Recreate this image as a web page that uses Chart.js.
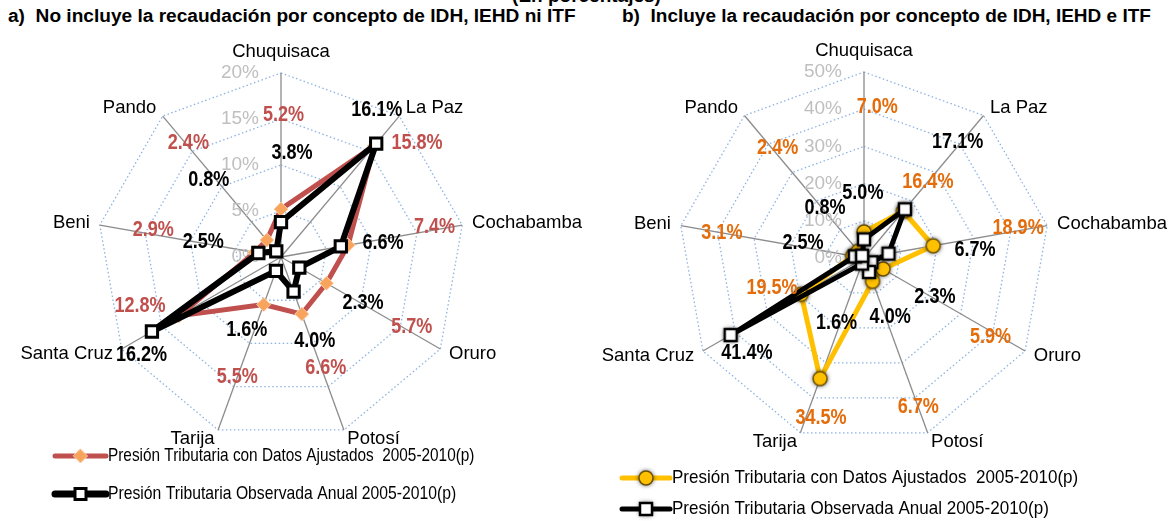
<!DOCTYPE html>
<html lang="es">
<head>
<meta charset="UTF-8">
<title>Presión tributaria por departamento</title>
<script src="https://cdn.jsdelivr.net/npm/chart.js@4.4.0/dist/chart.umd.min.js"></script>
<style>
  body { margin: 0; background: #fff; width: 1173px; height: 521px; overflow: hidden; position: relative; }
  .t { position: absolute; font-family: 'Liberation Sans', Arial, sans-serif; font-weight: bold; white-space: pre; color: #000; }
  #top { top: -14px; left: 0; width: 1173px; text-align: center; font-size: 19px; line-height: 19px; }
  #ta { top: 7px; left: 8px; font-size: 19.1px; line-height: 20px; transform: scaleY(0.92); transform-origin: left top; }
  #tb { top: 7px; left: 622px; font-size: 19px; line-height: 20px; transform: scaleY(0.92); transform-origin: left top; }
  canvas { position: absolute; top: 0; }
</style>
</head>
<body>
<div class="t" id="top">(En porcentajes)</div>
<div class="t" id="ta">a)  No incluye la recaudación por concepto de IDH, IEHD ni ITF</div>
<div class="t" id="tb">b)  Incluye la recaudación por concepto de IDH, IEHD e ITF</div>
<canvas id="chartA" width="586" height="521" style="left:0;width:586px;height:521px"></canvas>
<canvas id="chartB" width="587" height="521" style="left:586px;width:587px;height:521px"></canvas>

<script>
  // departamentos, en el orden del gráfico (horario desde arriba)
  const departamentos = ['Chuquisaca', 'La Paz', 'Cochabamba', 'Oruro', 'Potosí', 'Tarija', 'Santa Cruz', 'Beni', 'Pando'];

  // a) sin IDH, IEHD ni ITF
  const ajustadaA = [5.2, 15.8, 7.4, 5.7, 6.6, 5.5, 12.8, 2.9, 2.4];
  const observadaA = [3.8, 16.1, 6.6, 2.3, 4.0, 1.6, 16.2, 2.5, 0.8];
  const ticksA = [0, 5, 10, 15, 20];

  // b) con IDH, IEHD e ITF
  const ajustadaB = [7.0, 16.4, 18.9, 5.9, 6.7, 34.5, 19.5, 3.1, 2.4];
  const observadaB = [5.0, 17.1, 6.7, 2.3, 4.0, 1.6, 41.4, 2.5, 0.8];
  const ticksB = [0, 10, 20, 30, 40, 50];

  const nombreAjustada = 'Presión Tributaria con Datos Ajustados  2005-2010(p)';
  const nombreObservada = 'Presión Tributaria Observada Anual 2005-2010(p)';

  // where each value label sits: radius in axis units and angle in degrees
  const posA = {
    aj: { r: [15.4, 19.3, 17.0, 16.1, 13.0, 13.9, 16.2, 14.2, 16.0], ang: [1, 50, 79, 118, 158, 200, 251, 282, 321] },
    ob: { r: [11.4, 19.1, 11.2, 10.2, 9.8, 8.8, 18.5, 8.6, 11.5], ang: [6, 33, 82, 119, 158, 205, 235, 281, 317] }
  };
  const posB = {
    aj: { r: [40.7, 26.7, 42.2, 40.1, 42.6, 44.6, 26.0, 38.8, 37.7], ang: [5, 40, 79, 122, 160, 195, 252, 280, 322] },
    ob: { r: [17.5, 40.0, 29.9, 21.8, 17.3, 18.9, 40.5, 16.9, 17.0], ang: [359, 39, 86, 119, 156, 203, 231, 284, 322] }
  };

  const FONT = '"Liberation Sans", Arial, sans-serif';

  // little marker images with a soft dark glow (chart b)
  function glowMarker(kind) {
    const c = document.createElement('canvas');
    c.width = c.height = 26;
    const g = c.getContext('2d');
    g.shadowColor = 'rgba(0,0,0,0.8)';
    g.shadowBlur = 5;
    if (kind === 'circle') {
      g.beginPath();
      g.arc(13, 13, 7, 0, Math.PI * 2);
      g.fillStyle = '#FFC000';
      g.fill();
      g.shadowBlur = 0;
      g.lineWidth = 1.5;
      g.strokeStyle = '#6B5000';
      g.stroke();
    } else {
      g.fillStyle = '#fff';
      g.fillRect(7, 7, 12, 12);
      g.shadowBlur = 0;
      g.lineWidth = 2.5;
      g.strokeStyle = '#000';
      g.strokeRect(7, 7, 12, 12);
    }
    return c;
  }
  const circuloB = glowMarker('circle');
  const cuadroB = glowMarker('square');

  const decor = {
    id: 'decor',
    beforeDatasetsDraw(chart, args, o) {
      const s = chart.scales.r, ctx = chart.ctx;
      ctx.save();
      ctx.fillStyle = '#BFBFBF';
      ctx.font = '19px ' + FONT;
      ctx.textAlign = 'right';
      ctx.textBaseline = 'middle';
      s.ticks.forEach(t => {
        ctx.fillText(t.value + '%', s.xCenter - 22, s.yCenter - s.getDistanceFromCenterForValue(t.value));
      });
      ctx.fillStyle = '#000';
      ctx.font = '18.5px ' + FONT;
      const n = chart.data.labels.length;
      chart.data.labels.forEach((lab, i) => {
        const a = 360 / n * i;
        const p = s.getPointPosition(i, s.drawingArea + (a === 0 ? 12 : 10));
        ctx.textAlign = (a === 0 || a === 180) ? 'center' : (a < 180 ? 'left' : 'right');
        ctx.textBaseline = a === 0 ? 'bottom' : 'middle';
        ctx.fillText(lab, p.x, p.y);
      });
      ctx.restore();
    },
    afterDatasetsDraw(chart, args, o) {
      const s = chart.scales.r, ctx = chart.ctx;
      ctx.save();
      ctx.font = 'bold 22px ' + FONT;
      ctx.textAlign = 'center';
      ctx.textBaseline = 'middle';
      o.labels.forEach(set => {
        ctx.fillStyle = set.color;
        set.values.forEach((v, i) => {
          const d = s.getDistanceFromCenterForValue(set.pos.r[i]);
          const rad = set.pos.ang[i] * Math.PI / 180;
          ctx.save();
          ctx.translate(s.xCenter + d * Math.sin(rad), s.yCenter - d * Math.cos(rad));
          ctx.scale(0.82, 1);
          ctx.fillText(v.toFixed(1) + '%', 0, 0);
          ctx.restore();
        });
      });
      ctx.restore();
    },
    afterDraw(chart, args, o) {
      const ctx = chart.ctx;
      ctx.save();
      o.legend.forEach(it => {
        ctx.beginPath();
        ctx.moveTo(it.x, it.y);
        ctx.lineTo(it.x + it.w, it.y);
        ctx.lineWidth = it.lineWidth;
        ctx.lineCap = 'round';
        ctx.strokeStyle = it.color;
        ctx.stroke();
        const mx = it.x + it.w / 2;
        if (it.image) {
          ctx.drawImage(it.image, mx - it.image.width / 2, it.y - it.image.height / 2);
        } else if (it.marker === 'diamond') {
          ctx.beginPath();
          ctx.moveTo(mx, it.y - 7); ctx.lineTo(mx + 7, it.y); ctx.lineTo(mx, it.y + 7); ctx.lineTo(mx - 7, it.y);
          ctx.closePath();
          ctx.fillStyle = '#F8A45C'; ctx.fill();
          ctx.lineWidth = 1; ctx.strokeStyle = '#FAD2AE'; ctx.stroke();
        } else {
          ctx.fillStyle = '#fff';
          ctx.fillRect(mx - 5.5, it.y - 5.5, 11, 11);
          ctx.lineWidth = 3; ctx.strokeStyle = '#000';
          ctx.strokeRect(mx - 5.5, it.y - 5.5, 11, 11);
        }
        ctx.save();
        ctx.translate(it.x + it.w + 2, it.y);
        ctx.scale(it.squeeze, 1);
        ctx.fillStyle = '#000';
        ctx.font = '18.5px ' + FONT;
        ctx.textAlign = 'left';
        ctx.textBaseline = 'middle';
        ctx.fillText(it.text, 0, 0);
        ctx.restore();
      });
      ctx.restore();
    }
  };

  function radarScale(ticks) {
    return {
      r: {
        min: ticks[0],
        max: ticks[ticks.length - 1],
        afterBuildTicks: sc => { sc.ticks = ticks.map(v => ({ value: v })); },
        ticks: { display: false },
        pointLabels: { display: false },
        grid: { color: '#8DB3E2', lineWidth: 1.3, borderDash: [1.5, 2.5] },
        border: { dash: [1.5, 2.5] },
        angleLines: { color: '#8C8C8C', lineWidth: 1.3 }
      }
    };
  }

  new Chart(document.getElementById('chartA'), {
    type: 'radar',
    data: {
      labels: departamentos,
      datasets: [
        {
          label: nombreObservada,
          data: observadaA,
          borderColor: '#000',
          borderWidth: 6,
          borderJoinStyle: 'round',
          fill: false,
          pointStyle: 'rect',
          pointRadius: 8,
          pointBackgroundColor: '#fff',
          pointBorderColor: '#000',
          pointBorderWidth: 3
        },
        {
          label: nombreAjustada,
          data: ajustadaA,
          borderColor: '#C0504D',
          borderWidth: 5,
          borderJoinStyle: 'round',
          fill: false,
          pointStyle: 'rectRot',
          pointRadius: 7,
          pointBackgroundColor: '#F8A45C',
          pointBorderColor: '#FAD2AE',
          pointBorderWidth: 1
        }
      ]
    },
    options: {
      responsive: false,
      animation: false,
      devicePixelRatio: 1,
      layout: { padding: { left: 97, right: 121, top: 73, bottom: 80 } },
      scales: radarScale(ticksA),
      plugins: {
        legend: { display: false },
        tooltip: { enabled: false },
        decor: {
          labels: [
            { values: ajustadaA, pos: posA.aj, color: '#C0504D' },
            { values: observadaA, pos: posA.ob, color: '#000' }
          ],
          legend: [
            { text: nombreAjustada, x: 55, y: 456, w: 51, color: '#C0504D', lineWidth: 5, marker: 'diamond', squeeze: 0.83 },
            { text: nombreObservada, x: 55, y: 494, w: 51, color: '#000', lineWidth: 7, marker: 'square', squeeze: 0.85 }
          ]
        }
      }
    },
    plugins: [decor]
  });

  new Chart(document.getElementById('chartB'), {
    type: 'radar',
    data: {
      labels: departamentos,
      datasets: [
        {
          label: nombreObservada,
          data: observadaB,
          borderColor: '#000',
          borderWidth: 5,
          borderJoinStyle: 'round',
          fill: false,
          pointStyle: cuadroB,
          pointRadius: 7
        },
        {
          label: nombreAjustada,
          data: ajustadaB,
          borderColor: '#FFC000',
          borderWidth: 5,
          borderJoinStyle: 'round',
          fill: false,
          pointStyle: circuloB,
          pointRadius: 7
        }
      ]
    },
    options: {
      responsive: false,
      animation: false,
      devicePixelRatio: 1,
      layout: { padding: { left: 92, right: 123, top: 72, bottom: 77 } },
      scales: radarScale(ticksB),
      plugins: {
        legend: { display: false },
        tooltip: { enabled: false },
        decor: {
          labels: [
            { values: ajustadaB, pos: posB.aj, color: '#E46C0A' },
            { values: observadaB, pos: posB.ob, color: '#000' }
          ],
          legend: [
            { text: nombreAjustada, x: 36, y: 478, w: 48, color: '#FFC000', lineWidth: 5, image: circuloB, squeeze: 0.92 },
            { text: nombreObservada, x: 36, y: 509, w: 48, color: '#000', lineWidth: 5, image: cuadroB, squeeze: 0.92 }
          ]
        }
      }
    },
    plugins: [decor]
  });
</script>
</body>
</html>
